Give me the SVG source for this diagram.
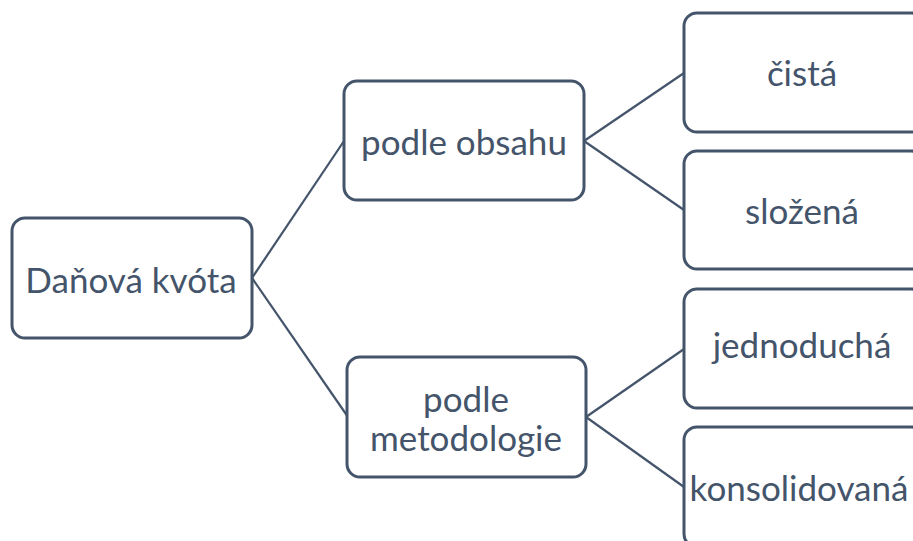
<svg xmlns="http://www.w3.org/2000/svg" width="913" height="541" viewBox="0 0 913 541">
<style>
.box{fill:#fff;stroke:#44546A;stroke-width:3}
.lbl{font-family:Lato,"Liberation Sans",sans-serif;font-size:35px;fill:#44546A;text-anchor:middle;dominant-baseline:central}
.conn line{stroke:#44546A;stroke-width:2.2}
</style>
<rect width="913" height="541" fill="#fff"/>
<g id="connectors" class="conn">
<line x1="252" y1="278" x2="344" y2="141"/>
<line x1="252" y1="278" x2="348" y2="417"/>
<line x1="584" y1="141" x2="684" y2="73"/>
<line x1="584" y1="141" x2="684" y2="210"/>
<line x1="586" y1="417" x2="684" y2="349"/>
<line x1="586" y1="417" x2="684" y2="487"/>
</g>
<g id="root">
<rect class="box" x="12" y="218" width="240" height="120" rx="13"/>
<text class="lbl" x="131" y="279">Daňová kvóta</text>
</g>
<g id="podle-obsahu">
<rect class="box" x="344" y="81" width="240" height="119" rx="13"/>
<text class="lbl" x="464" y="141">podle obsahu</text>
</g>
<g id="podle-metodologie">
<rect class="box" x="347" y="357" width="239" height="120" rx="13"/>
<text class="lbl" x="466" y="398">podle</text>
<text class="lbl" x="466" y="437">metodologie</text>
</g>
<g id="cista">
<rect class="box" x="684" y="13" width="240" height="119" rx="13"/>
<text class="lbl" x="802" y="72">čistá</text>
</g>
<g id="slozena">
<rect class="box" x="684" y="151" width="240" height="118" rx="13"/>
<text class="lbl" x="802" y="210">složená</text>
</g>
<g id="jednoducha">
<rect class="box" x="684" y="289" width="240" height="119" rx="13"/>
<text class="lbl" x="802" y="344">jednoduchá</text>
</g>
<g id="konsolidovana">
<rect class="box" x="684" y="427" width="240" height="120" rx="13"/>
<text class="lbl" x="799" y="487">konsolidovaná</text>
</g>
</svg>
